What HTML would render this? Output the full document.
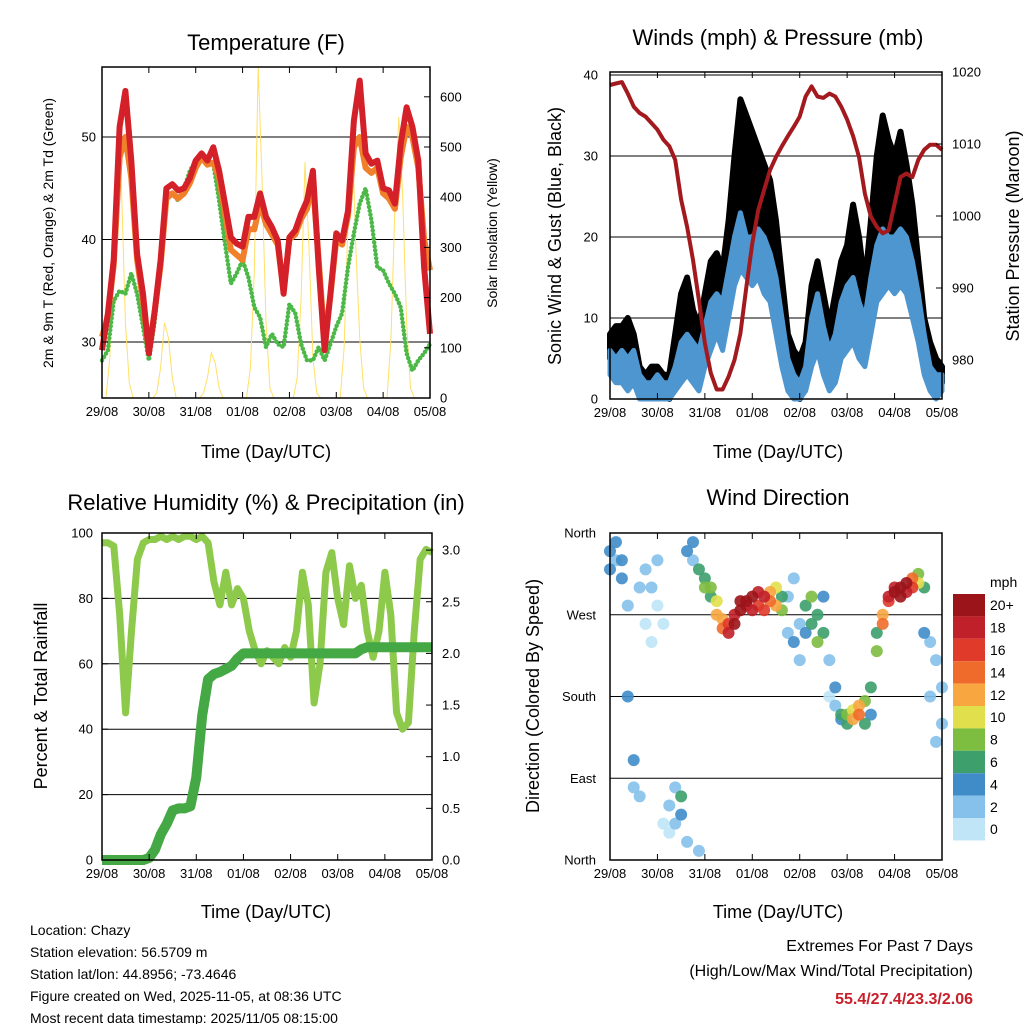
<!DOCTYPE html>
<html><head><meta charset="utf-8"><style>
html,body{margin:0;padding:0;background:#fff;}
svg{display:block;font-family:"Liberation Sans",sans-serif;}
</style></head><body>
<svg id="chart" width="1024" height="1024" viewBox="0 0 1024 1024" xmlns="http://www.w3.org/2000/svg">
<rect width="1024" height="1024" fill="#fff"/>
<g font-size="22" text-anchor="middle" fill="#000">
<text x="266" y="50">Temperature (F)</text>
<text x="778" y="45">Winds (mph) &amp; Pressure (mb)</text>
<text x="266" y="510">Relative Humidity (%) &amp; Precipitation (in)</text>
<text x="778" y="505">Wind Direction</text>
</g>
<g font-size="18" text-anchor="middle">
<text x="266" y="458">Time (Day/UTC)</text>
<text x="778" y="458">Time (Day/UTC)</text>
<text x="266" y="918">Time (Day/UTC)</text>
<text x="778" y="918">Time (Day/UTC)</text>
<text transform="translate(53,233) rotate(-90)" font-size="14">2m &amp; 9m T (Red, Orange) &amp; 2m Td (Green)</text>
<text transform="translate(497,233) rotate(-90)" font-size="14">Solar Insolation (Yellow)</text>
<text transform="translate(561,236) rotate(-90)">Sonic Wind &amp; Gust (Blue, Black)</text>
<text transform="translate(1019,236) rotate(-90)">Station Pressure (Maroon)</text>
<text transform="translate(47,696) rotate(-90)">Percent &amp; Total Rainfall</text>
<text transform="translate(539,696) rotate(-90)">Direction (Colored By Speed)</text>
</g>
<g font-size="14" fill="#000">
<text x="30" y="935">Location: Chazy</text>
<text x="30" y="957">Station elevation: 56.5709 m</text>
<text x="30" y="979">Station lat/lon: 44.8956; -73.4646</text>
<text x="30" y="1001">Figure created on Wed, 2025-11-05, at 08:36 UTC</text>
<text x="30" y="1023">Most recent data timestamp: 2025/11/05 08:15:00</text>
</g>
<g font-size="16" text-anchor="end">
<text x="973" y="951">Extremes For Past 7 Days</text>
<text x="973" y="976">(High/Low/Max Wind/Total Precipitation)</text>
<text x="973" y="1004" fill="#c8202a" font-weight="bold">55.4/27.4/23.3/2.06</text>
</g>
<g id="layers"></g>
</svg>
<script>
const dayLabels=["29/08","30/08","31/08","01/08","02/08","03/08","04/08","05/08"];
const tempRed=[29.2,32.8,38,51,54.5,47.7,38.6,34.7,28.9,33,38,45,45.4,44.8,45,46,47.7,48.4,47.7,49,46.7,43.5,40.2,39.6,39.3,42.2,42.2,44.5,42.2,41.2,39.9,34.7,40.2,40.9,42.5,43.8,46.7,37.3,29.2,34.7,40.6,39.9,42.8,51.6,55.5,48.4,47.4,47.7,45,44.8,43.5,49.3,52.9,51,47.7,37.3,30.8];
const tempOrange=[30.5,32.5,37.5,48,50,46,38,34,29,33,37.5,44,44.5,44,44.5,45.5,47,48,47.3,47.5,46,42.5,39,38.5,38,41,41,43.5,41.5,40.5,39.5,35,40,40.5,42,43,45.5,38,30,34.5,40,39.5,42.3,49,50,47,46.5,47,44.5,44,43,48,51,50,47,40,37];
const dewGreen=[28.2,29.2,34,35,34.7,36.7,34.7,31.5,28.2,32,38,44.5,44.5,43.8,45,46.7,47.7,48.4,47.7,47.4,43.8,39.6,35.7,36.7,38,36.3,33.4,32.4,29.5,30.8,29.8,29.5,33.7,32.8,29.8,28.2,28.2,29.5,28.2,29.8,31.5,32.8,37.3,40.6,43.5,45,41.9,37.3,37,35.7,34.7,33.4,28.9,27.2,28.2,28.9,29.8];
const solar=[0,0,80,300,500,420,150,30,0,0,0,0, 0,0,10,60,150,120,40,0,0,0,0,0, 0,0,10,40,90,70,20,0,0,0,0,0, 0,0,60,250,660,430,150,20,0,0,0,0, 0,0,40,200,470,300,80,10,0,0,0,0, 0,0,100,350,550,300,120,20,0,0,0,0, 0,0,120,380,560,400,150,20,0,0,0,0, 0];
const pressure=[1018.2,1018.4,1018.6,1017.0,1015.2,1014.3,1013.8,1012.9,1012.0,1010.6,1009.7,1007.8,1002.3,998.5,993.9,988.3,982.3,978.2,975.9,975.9,977.7,980,983.7,990.2,996.2,1000.8,1003.6,1006.4,1008.2,1009.7,1011.1,1012.4,1013.8,1016.6,1018,1016.6,1016.4,1017,1016.6,1015.2,1013.4,1011.1,1008.2,1003.1,999.9,998.5,997.6,998,1001.7,1005.4,1005.9,1005.4,1007.8,1009.2,1009.9,1009.9,1009.2];
const windLo=[3,2,2,1,2,0,0,0,0,0,0,1,2,3,2,1,4,6,8,6,10,14,16,15,14,15,13,12,8,4,1,0,0,1,4,6,3,1,2,5,6,7,5,4,8,12,13,14,13,14,13,10,7,3,1,0,1];
const windHi=[6,5,6,5,6,3,2,2,3,2,2,4,7,8,7,6,9,12,13,12,16,20,23,20,20,21,20,18,15,10,5,3,2,4,10,13,9,6,8,12,14,15,12,10,15,19,21,20,20,21,20,17,13,8,4,3,3];
const gustLo=[5,5,5,4,5,1,1,1,1,1,0,3,5,6,5,4,7,9,11,10,13,20,22,21,20,20,18,16,12,7,3,1,0,2,7,10,6,3,5,8,10,12,9,7,12,16,17,18,17,19,18,14,10,5,3,2,2];
const gustHi=[8,9,9,10,8,4,3,4,4,3,3,8,13,15,11,9,13,17,18,16,22,30,37,35,33,31,29,27,22,15,8,6,5,7,14,17,13,9,13,17,19,24,20,14,22,30,35,32,30,33,29,24,17,10,7,5,4];
const rh=[97,97,96,75,45,70,92,97,98,98,99,98,99,98,99,99,98,99,97,85,78,88,78,83,80,70,64,60,64,62,60,65,62,70,88,78,48,60,88,94,80,72,90,80,84,70,62,70,88,75,45,40,42,70,92,95,94];
const precip=[0,0,0,0,0,0,0,0,0.02,0.1,0.25,0.35,0.48,0.5,0.5,0.52,0.8,1.4,1.75,1.8,1.82,1.85,1.88,1.95,2,2,2,2,2,2,2,2,2,2,2,2,2,2,2,2,2,2,2,2,2.04,2.06,2.06,2.06,2.06,2.06,2.06,2.06,2.06,2.06,2.06,2.06,2.06];
const dirA=[340,350,330,180,110,70,320,300,330,40,60,80,70,20,350,320,310,300,285,265,250,260,275,285,290,280,290,285,280,275,290,240,260,280,290,270,250,220,170,160,160,165,160,175,190,230,270,285,295,300,305,300,315,300,240,220,190];
const spdA=[4,4,4,4,4,3,2,2,2,1,2,3,6,2,4,6,6,8,10,12,18,20,20,20,20,16,18,14,12,8,3,4,3,6,8,6,6,2,2,6,8,10,14,8,6,8,12,16,20,20,20,16,8,6,3,2,2];
const dirB=[320,330,310,280,80,300,260,240,280,260,30,40,50,340,330,10,300,290,270,255,260,270,285,280,275,295,275,295,300,290,250,310,220,250,260,240,290,180,190,155,150,155,170,150,160,250,260,290,300,290,295,310,305,250,180,130,150];
const spdB=[4,3,4,3,3,2,1,1,1,0,1,2,4,4,3,2,8,6,12,14,16,18,20,18,18,18,16,12,10,6,3,2,2,4,6,8,4,1,4,4,6,12,12,6,4,6,14,18,18,20,18,14,10,4,2,2,2];
const speedBins=["0","2","4","6","8","10","12","14","16","18","20+"];
const binColors=["#bfe5f7","#85c1ea","#3f8cc8","#3c9f6c","#7dbd40","#e2df4c","#f7a640","#ef6b2b","#e03a2a","#c0202a","#9b141a"];

const NS="http://www.w3.org/2000/svg";
const root=document.getElementById('layers');
function mk(tag,attrs,parent){const e=document.createElementNS(NS,tag);for(const k in attrs)e.setAttribute(k,attrs[k]);(parent||root).appendChild(e);return e;}
function hourOf(i,n){return i*168/(n-1);}

const P={
 t:{x0:102,x1:430,y0:67,y1:398},
 w:{x0:610,x1:942,y0:72,y1:399},
 r:{x0:102,x1:432,y0:533,y1:860},
 d:{x0:610,x1:942,y0:533,y1:860}
};
function xs(p,h){return p.x0+h*(p.x1-p.x0)/168;}
const yT=v=>342-(v-30)*10.25;
const yS=v=>398-v*0.502;
const yW=v=>399-v*8.1;
const yP=v=>72+(1020-v)*7.2;
const yR=v=>860-v*3.27;
const yPr=v=>860-v*103.3;
const yD=v=>860-v*327/360;

function frame(p,name){
 const r=mk('rect',{x:p.x0,y:p.y0,width:p.x1-p.x0,height:p.y1-p.y0,fill:'none',stroke:'#000','stroke-width':1.5});
 
 
}
function grid(p,ys,name){
 ys.forEach(y=>{const l=mk('line',{x1:p.x0,x2:p.x1,y1:y,y2:y,stroke:'#000','stroke-width':1});
 
 });
}
function xAxis(p,name){
 dayLabels.forEach((d,i)=>{const x=xs(p,i*24);
  mk('line',{x1:x,x2:x,y1:p.y1,y2:p.y1-6,stroke:'#000'});
  mk('line',{x1:x,x2:x,y1:p.y0,y2:p.y0+6,stroke:'#000'});
  const t=mk('text',{x:x,y:p.y1+18,'font-size':13,'text-anchor':'middle'});t.textContent=d;
  
  });
}
function yLabels(list,fy,x,anchor,name,tickx,dir){
 list.forEach(v=>{const y=fy(v);
  const t=mk('text',{x:x,y:y+4.5,'font-size':13,'text-anchor':anchor});t.textContent=(name.indexOf('precip')>=0)?v.toFixed(1):v;
  
  
  mk('line',{x1:tickx,x2:tickx+dir*6,y1:y,y2:y,stroke:'#000'});});
}
function poly(arr,fx,fy,attrs,name){
 const pts=arr.map((v,i)=>fx(hourOf(i,arr.length)).toFixed(1)+','+fy(v).toFixed(1)).join(' ');
 const e=mk('polyline',Object.assign({points:pts,fill:'none'},attrs));
 
 
 return e;
}
function band(lo,hi,fx,fy,color,w,name){
 const top=hi.map((v,i)=>fx(hourOf(i,hi.length)).toFixed(1)+','+fy(v).toFixed(1));
 const bot=lo.map((v,i)=>fx(hourOf(i,lo.length)).toFixed(1)+','+fy(v).toFixed(1)).reverse();
 const e=mk('polygon',{points:top.concat(bot).join(' '),fill:color,stroke:color,'stroke-width':w,'stroke-linejoin':'round'});
 
 
}

// ---- Temperature panel
const pt=P.t;
grid(pt,[yT(30),yT(40),yT(50)],'temp');
poly(solar,h=>xs(pt,h),yS,{stroke:'#ffe066','stroke-width':1},'solar-line');
poly(dewGreen,h=>xs(pt,h),yT,{stroke:'#4bb847','stroke-width':4.5,'stroke-dasharray':'0 4','stroke-linecap':'round'},'dewpoint-line');
poly(tempOrange,h=>xs(pt,h),yT,{stroke:'#f0802a','stroke-width':6,'stroke-linejoin':'round'},'temp-9m-line');
poly(tempRed,h=>xs(pt,h),yT,{stroke:'#d42028','stroke-width':6,'stroke-linejoin':'round'},'temp-2m-line');
frame(pt,'temp');xAxis(pt,'temp');
yLabels([30,40,50],yT,96,'end','temp-left',pt.x0,1);
yLabels([0,100,200,300,400,500,600],yS,440,'start','solar-right',pt.x1,-1);

// ---- Winds panel
const pw=P.w;
grid(pw,[yW(10),yW(20),yW(30),yW(40)],'wind');
band(gustLo,gustHi,h=>xs(pw,h),yW,'#000',6,'gust-band');
band(windLo,windHi,h=>xs(pw,h),yW,'#4e96d0',5,'wind-band');
poly(pressure,h=>xs(pw,h),yP,{stroke:'#a31a1e','stroke-width':4,'stroke-linejoin':'round'},'pressure-line');
frame(pw,'wind');xAxis(pw,'wind');
yLabels([0,10,20,30,40],yW,598,'end','wind-left',pw.x0,1);
yLabels([980,990,1000,1010,1020],yP,952,'start','pressure-right',pw.x1,-1);

// ---- Humidity panel
const pr=P.r;
grid(pr,[yR(20),yR(40),yR(60),yR(80)],'humidity');
poly(rh,h=>xs(pr,h),yR,{stroke:'#8dc94a','stroke-width':7,'stroke-linejoin':'round'},'rh-line');
poly(precip,h=>xs(pr,h),yPr,{stroke:'#44a844','stroke-width':10,'stroke-linejoin':'round'},'precip-line');
frame(pr,'humidity');xAxis(pr,'humidity');
yLabels([0,20,40,60,80,100],yR,93,'end','rh-left',pr.x0,1);
yLabels([0,0.5,1,1.5,2,2.5,3],yPr,442,'start','precip-right',pr.x1,-1);

// ---- Direction panel
const pd=P.d;
grid(pd,[yD(90),yD(180),yD(270)],'direction');
function binOf(s){return Math.min(10,Math.floor(s/2));}
const dots=[];
dirA.forEach((v,i)=>dots.push({h:hourOf(i,dirA.length),d:v,s:spdA[i]}));
dirB.forEach((v,i)=>dots.push({h:hourOf(i,dirB.length),d:v,s:spdB[i]}));
dots.sort((a,b)=>a.s-b.s).forEach(o=>{
 const c=mk('circle',{cx:xs(pd,o.h),cy:yD(o.d),r:6,fill:binColors[binOf(o.s)],'fill-opacity':0.9});
 
 });
frame(pd,'direction');xAxis(pd,'direction');
const dirNames=["North","East","South","West","North"];
dirNames.forEach((n,i)=>{const y=yD(i*90);
 const t=mk('text',{x:596,y:y+4.5,'font-size':13,'text-anchor':'end'});t.textContent=n;
 
 });

// colorbar
const mph=mk('text',{x:990,y:587,'font-size':14});mph.textContent='mph';


const bh=22.4;
speedBins.forEach((lab,i)=>{const y=594+i*bh;
 const r=mk('rect',{x:953,y:y,width:32,height:bh,fill:binColors[10-i]});
 
 
 const t=mk('text',{x:990,y:y+bh/2+5,'font-size':14});t.textContent=speedBins[10-i];
 
 });
</script>
</body></html>
